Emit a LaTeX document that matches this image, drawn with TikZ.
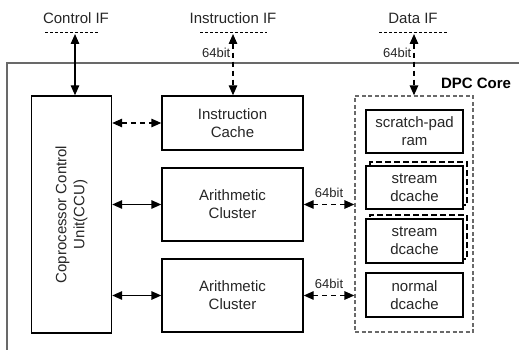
\documentclass[tikz,border=0pt]{standalone}
\usepackage{fontspec}
\setmainfont{Liberation Sans}
\usetikzlibrary{arrows.meta}
\definecolor{coregray}{RGB}{105,105,105}

\tikzset{
  blk/.style={draw,line width=1.4pt,fill=white,align=center,inner sep=0pt},
  shadowbox/.style={draw,line width=1.4pt,dash pattern=on 6pt off 3pt,inner sep=0pt},
  biarrow/.style={{Triangle[length=10pt,width=8.5pt]}-{Triangle[length=10pt,width=8.5pt]},line width=1.4pt},
  busdash/.style={biarrow,dash pattern=on 5pt off 4pt},
  ifline/.style={draw,line width=1pt,dash pattern=on 3pt off 2pt},
}

\begin{document}
\begin{tikzpicture}[x=1pt,y=-1pt,font=\fontsize{15}{18}\selectfont,text=black!85]
		\useasboundingbox (0,0) rectangle (519,350);
		% core frame
		\draw[coregray,line width=1.5pt] (7,356) -- (7,63) -- (525,63);
		\node[font=\fontsize{15}{18}\selectfont\bfseries,text=black] (core) at (476,83) {DPC Core};
		
		% interfaces
		\node (ctrlif) at (76,18) {Control IF};
		\node (instrif) at (233,18) {Instruction IF};
		\node (dataif) at (413,18) {Data IF};
		\coordinate (ctrlA) at (45,33);  \coordinate (ctrlB) at (99,33);
		\coordinate (instrA) at (200,33); \coordinate (instrB) at (267,33);
		\coordinate (dataA) at (379,33); \coordinate (dataB) at (447,33);
		\draw[ifline] (ctrlA) -- (ctrlB);
		\draw[ifline] (instrA) -- (instrB);
		\draw[ifline] (dataA) -- (dataB);
		\coordinate (ctrlP) at (75,34);
		\coordinate (instrP) at (233,34);
		\coordinate (dataP) at (414,34);
		
		% blocks
		\node[blk,rotate=90,minimum width=237,minimum height=80] (ccu) at (71.5,214.5)
		{Coprocessor Control\\Unit(CCU)};
		\node[blk,minimum width=141,minimum height=54] (icache) at (232.5,123)
		{Instruction\\Cache};
		\node[blk,minimum width=141,minimum height=73] (ac1) at (232.5,204.5)
		{Arithmetic\\Cluster};
		\node[blk,minimum width=141,minimum height=73] (ac2) at (232.5,295.5)
		{Arithmetic\\Cluster};
		
		% data memory
		\node[draw,coregray,line width=1.3pt,dash pattern=on 4pt off 2.5pt,
		minimum width=118,minimum height=236,inner sep=0pt] (dmem) at (414,214) {};
		\node[blk,minimum width=97,minimum height=43] (spad) at (414.5,131.5)
		{scratch-pad\\ram};
		\node[shadowbox,minimum width=97,minimum height=43] (sh1) at (418.5,183.5) {};
		\node[blk,minimum width=97,minimum height=43] (sdc1) at (414.5,187.5)
		{stream\\dcache};
		\node[shadowbox,minimum width=97,minimum height=44] (sh2) at (418.5,237) {};
		\node[blk,minimum width=97,minimum height=44] (sdc2) at (414.5,241)
		{stream\\dcache};
		\node[blk,minimum width=97,minimum height=44] (ndc) at (414.5,295)
		{normal\\dcache};
		
		% connections
		\draw[biarrow] (ctrlP) -- (ctrlP |- ccu.east);
		\draw[busdash] (instrP) -- node[left,pos=0.3,inner sep=2pt] {\fontsize{13}{15}\selectfont 64bit} (instrP |- icache.north);
		\draw[busdash] (dataP) -- node[left,pos=0.3,inner sep=2pt] {\fontsize{13}{15}\selectfont 64bit} (dataP |- dmem.north);
		\draw[busdash] (ccu.south |- icache.west) -- (icache.west);
		\draw[biarrow] (ccu.south |- ac1.west) -- (ac1.west);
		\draw[biarrow] (ccu.south |- ac2.west) -- (ac2.west);
		\draw[busdash] (ac1.east) -- node[above=3pt] {\fontsize{13}{15}\selectfont 64bit} (ac1.east -| dmem.west);
		\draw[busdash] (ac2.east) -- node[above=3pt] {\fontsize{13}{15}\selectfont 64bit} (ac2.east -| dmem.west);
		\end{tikzpicture}
\end{document}
